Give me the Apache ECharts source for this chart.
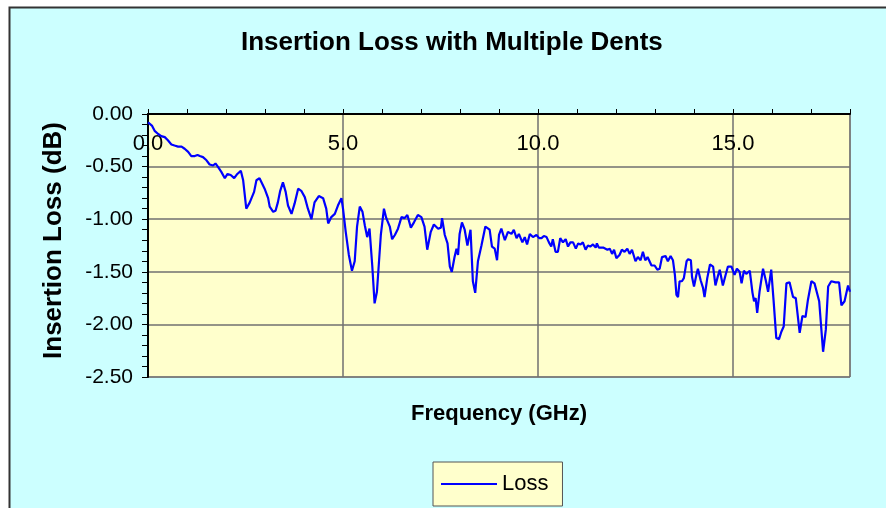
<!DOCTYPE html>
<html>
<head>
<meta charset="utf-8">
<title>Insertion Loss with Multiple Dents</title>
<script src="https://cdn.jsdelivr.net/npm/echarts@6/dist/echarts.min.js"></script>
<style>
  html, body { margin: 0; padding: 0; background: #fff; }
  #chart { width: 886px; height: 508px; }
</style>
</head>
<body>
<div id="chart"></div>
<script>
// frequency (GHz), insertion loss (dB)
var insertionLoss = [
  [0.00,-0.08],[0.10,-0.11],[0.17,-0.16],[0.26,-0.19],[0.34,-0.21],[0.43,-0.22],[0.51,-0.25],[0.60,-0.29],
  [0.68,-0.30],[0.77,-0.31],[0.86,-0.31],[0.94,-0.33],[1.03,-0.36],[1.11,-0.40],[1.20,-0.40],[1.27,-0.39],
  [1.33,-0.40],[1.41,-0.41],[1.50,-0.44],[1.58,-0.48],[1.67,-0.49],[1.73,-0.47],[1.79,-0.50],[1.88,-0.55],
  [1.97,-0.61],[2.04,-0.57],[2.12,-0.58],[2.21,-0.61],[2.29,-0.57],[2.38,-0.54],[2.44,-0.63],[2.52,-0.90],
  [2.61,-0.84],[2.72,-0.74],[2.78,-0.63],[2.86,-0.61],[2.99,-0.71],[3.08,-0.80],[3.12,-0.88],[3.21,-0.93],
  [3.27,-0.92],[3.33,-0.84],[3.39,-0.73],[3.46,-0.65],[3.53,-0.74],[3.59,-0.87],[3.68,-0.95],[3.76,-0.85],
  [3.85,-0.71],[3.93,-0.73],[4.02,-0.79],[4.10,-0.90],[4.19,-1.00],[4.27,-0.84],[4.38,-0.78],[4.49,-0.80],
  [4.57,-0.90],[4.62,-1.04],[4.70,-0.98],[4.79,-0.95],[4.87,-0.87],[4.96,-0.80],[5.00,-0.90],[5.07,-1.12],
  [5.15,-1.34],[5.23,-1.49],[5.30,-1.40],[5.36,-1.07],[5.43,-0.88],[5.50,-0.93],[5.56,-1.06],[5.62,-1.17],
  [5.68,-1.09],[5.75,-1.44],[5.81,-1.80],[5.87,-1.69],[5.97,-1.15],[6.05,-0.90],[6.11,-0.99],[6.20,-1.07],
  [6.26,-1.19],[6.33,-1.15],[6.41,-1.09],[6.50,-0.98],[6.58,-0.99],[6.65,-0.96],[6.74,-1.08],[6.82,-1.03],
  [6.92,-0.96],[7.01,-0.98],[7.09,-1.07],[7.16,-1.29],[7.25,-1.12],[7.33,-1.05],[7.44,-1.09],[7.51,-1.08],
  [7.54,-0.99],[7.61,-1.15],[7.68,-1.23],[7.74,-1.45],[7.79,-1.50],[7.86,-1.36],[7.91,-1.28],[7.95,-1.34],
  [7.99,-1.14],[8.05,-1.03],[8.12,-1.10],[8.19,-1.25],[8.27,-1.10],[8.33,-1.59],[8.39,-1.70],[8.46,-1.40],
  [8.55,-1.25],[8.65,-1.07],[8.76,-1.10],[8.82,-1.26],[8.89,-1.28],[8.95,-1.39],[9.00,-1.15],[9.06,-1.09],
  [9.15,-1.20],[9.23,-1.12],[9.32,-1.14],[9.38,-1.10],[9.45,-1.18],[9.51,-1.14],[9.60,-1.22],[9.66,-1.17],
  [9.72,-1.24],[9.79,-1.14],[9.87,-1.17],[9.96,-1.15],[10.03,-1.18],[10.09,-1.18],[10.15,-1.16],[10.22,-1.17],
  [10.28,-1.22],[10.34,-1.26],[10.38,-1.19],[10.45,-1.31],[10.51,-1.31],[10.57,-1.18],[10.64,-1.22],[10.71,-1.19],
  [10.77,-1.26],[10.83,-1.22],[10.90,-1.22],[10.97,-1.28],[11.03,-1.23],[11.09,-1.24],[11.15,-1.22],[11.22,-1.29],
  [11.28,-1.25],[11.34,-1.26],[11.41,-1.24],[11.48,-1.27],[11.51,-1.23],[11.56,-1.27],[11.67,-1.27],[11.78,-1.29],
  [11.84,-1.28],[11.90,-1.33],[11.95,-1.29],[12.01,-1.37],[12.09,-1.34],[12.15,-1.29],[12.22,-1.31],[12.29,-1.28],
  [12.35,-1.33],[12.41,-1.29],[12.50,-1.40],[12.56,-1.36],[12.63,-1.39],[12.69,-1.31],[12.75,-1.39],[12.81,-1.36],
  [12.86,-1.37],[12.91,-1.44],[12.99,-1.44],[13.06,-1.48],[13.12,-1.47],[13.18,-1.36],[13.27,-1.35],[13.33,-1.40],
  [13.40,-1.35],[13.46,-1.39],[13.51,-1.53],[13.55,-1.72],[13.59,-1.74],[13.63,-1.59],[13.69,-1.59],[13.74,-1.56],
  [13.81,-1.40],[13.85,-1.38],[13.92,-1.39],[13.95,-1.55],[14.00,-1.64],[14.06,-1.53],[14.10,-1.47],[14.17,-1.58],
  [14.23,-1.65],[14.27,-1.74],[14.34,-1.56],[14.41,-1.43],[14.49,-1.45],[14.55,-1.63],[14.62,-1.53],[14.66,-1.48],
  [14.74,-1.63],[14.81,-1.53],[14.87,-1.45],[14.96,-1.45],[15.04,-1.53],[15.10,-1.47],[15.17,-1.50],[15.22,-1.61],
  [15.28,-1.49],[15.34,-1.52],[15.43,-1.49],[15.50,-1.70],[15.54,-1.78],[15.58,-1.75],[15.62,-1.89],[15.68,-1.69],
  [15.77,-1.47],[15.84,-1.58],[15.90,-1.69],[15.98,-1.48],[16.04,-1.77],[16.11,-2.13],[16.18,-2.14],[16.24,-2.07],
  [16.30,-2.02],[16.37,-1.61],[16.45,-1.60],[16.54,-1.74],[16.61,-1.75],[16.71,-2.08],[16.78,-1.92],[16.86,-1.93],
  [16.92,-1.77],[17.01,-1.59],[17.09,-1.61],[17.21,-1.78],[17.31,-2.26],[17.38,-2.05],[17.44,-1.64],[17.52,-1.59],
  [17.63,-1.60],[17.72,-1.60],[17.78,-1.82],[17.86,-1.78],[17.95,-1.63],[18.00,-1.69]
];
var yTicks = [0, -0.5, -1.0, -1.5, -2.0, -2.5];
var xLabeled = [0, 5, 10, 15];

var font = 'Arial, "Liberation Sans", sans-serif';

var myChart = echarts.init(document.getElementById('chart'));
myChart.setOption({
    animation: false,
    backgroundColor: '#ffffff',
    graphic: [{
        type: 'rect',
        z: -10,
        silent: true,
        shape: { x: 9.5, y: 7.5, width: 900, height: 520 },
        style: { fill: '#CCFFFF', stroke: '#333333', lineWidth: 2 }
    }],
    title: {
        text: 'Insertion Loss with Multiple Dents',
        left: 241,
        top: 30,
        padding: 0,
        textStyle: { fontFamily: font, fontSize: 26, fontWeight: 'bold', color: '#000' }
    },
    legend: {
        data: ['Loss'],
        left: 433,
        top: 462,
        padding: [11, 14, 11, 8],
        backgroundColor: '#FFFFCC',
        borderColor: '#555555',
        borderWidth: 1,
        icon: 'rect',
        itemWidth: 56,
        itemHeight: 2,
        textStyle: { fontFamily: font, fontSize: 22, color: '#000' }
    },
    grid: {
        left: 148,
        top: 114,
        right: 36,
        bottom: 131,
        show: true,
        backgroundColor: '#FFFFCC',
        borderColor: '#808080',
        borderWidth: 1
    },
    xAxis: [{
        type: 'value',
        position: 'top',
        min: 0,
        max: 18,
        interval: 1,
        axisLine: { onZero: false, lineStyle: { color: '#000', width: 2 } },
        axisTick: { show: true, inside: false, length: 5, lineStyle: { color: '#000', width: 1 } },
        axisLabel: {
            inside: true,
            margin: 19,
            fontFamily: font,
            fontSize: 22,
            color: '#000',
            formatter: function (v) {
                return xLabeled.indexOf(v) >= 0 ? v.toFixed(1) : '';
            }
        },
        splitLine: { show: false }
    }, {
        type: 'value',
        position: 'bottom',
        min: 0,
        max: 18,
        interval: 5,
        name: 'Frequency (GHz)',
        nameLocation: 'middle',
        nameGap: 26,
        nameTextStyle: { fontFamily: font, fontSize: 22, fontWeight: 'bold', color: '#000' },
        axisLine: { show: false },
        axisTick: { show: false },
        axisLabel: { show: false },
        splitLine: { show: true, lineStyle: { color: '#707070', width: 1.5 } }
    }],
    yAxis: {
        type: 'value',
        min: -2.5,
        max: 0,
        interval: 0.5,
        name: 'Insertion Loss (dB)',
        nameLocation: 'middle',
        nameRotate: 90,
        nameGap: 81,
        nameTextStyle: { fontFamily: font, fontSize: 26, fontWeight: 'bold', color: '#000', padding: [0, 0, 0, 10] },
        axisLine: { show: true, onZero: false, lineStyle: { color: '#000', width: 2 } },
        axisTick: { show: true, length: 6, lineStyle: { color: '#000' } },
        minorTick: { show: true, splitNumber: 5, length: 6, lineStyle: { color: '#000' } },
        axisLabel: {
            margin: 15,
            fontFamily: font,
            fontSize: 21,
            color: '#000',
            formatter: function (v) {
                return yTicks.indexOf(v) >= 0 ? v.toFixed(2) : '';
            }
        },
        splitLine: { show: true, lineStyle: { color: '#707070', width: 1.5 } }
    },
    series: [{
        name: 'Loss',
        type: 'line',
        xAxisIndex: 0,
        data: insertionLoss,
        symbol: 'none',
        showSymbol: false,
        lineStyle: { color: '#0000FF', width: 2.2 },
        itemStyle: { color: '#0000FF' }
    }]
});
</script>
</body>
</html>
